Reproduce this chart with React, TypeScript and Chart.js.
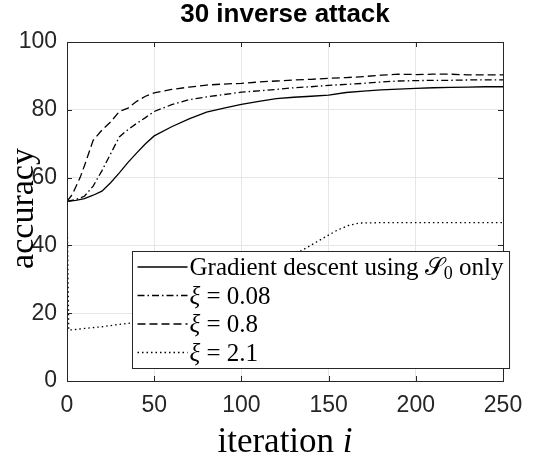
import React, { useEffect, useRef } from 'react';
import { Chart, registerables } from 'chart.js';

Chart.register(...registerables);

const titleText = '30 inverse attack';
const xTicks = [0, 50, 100, 150, 200, 250];
const yTicks = [0, 20, 40, 60, 80, 100];

const gdIter = [0, 5, 10, 15, 20, 25, 30, 35, 40, 45, 50, 60, 70, 80, 90, 100, 110, 120, 130, 140, 150, 160, 170, 180, 190, 200, 210, 220, 230, 240, 250];
const gdAcc = [53, 53.3, 53.8, 54.8, 56, 58.5, 61.4, 64.5, 67.3, 70, 72.3, 75, 77.3, 79.3, 80.5, 81.6, 82.5, 83.3, 83.7, 84, 84.3, 85.1, 85.5, 85.9, 86.1, 86.3, 86.5, 86.6, 86.7, 86.8, 86.8];

const x008Iter = [0, 5, 10, 15, 20, 25, 30, 35, 40, 45, 50, 60, 70, 80, 90, 100, 110, 120, 130, 140, 150, 160, 170, 180, 190, 200, 210, 220, 230, 240, 250];
const x008Acc = [53, 53.5, 54.5, 57.5, 62, 67, 72, 74.2, 76, 77.7, 79.5, 81.5, 83, 83.8, 84.5, 85.2, 85.6, 86, 86.5, 86.8, 87.2, 87.5, 87.8, 88.2, 88.5, 88.6, 88.7, 88.7, 88.8, 88.8, 88.8];

const x08Iter = [0, 3, 7.5, 10, 15, 20, 25, 30, 35, 40, 45, 50, 60, 70, 80, 90, 100, 110, 120, 130, 140, 150, 160, 170, 180, 190, 200, 210, 220, 230, 240, 250];
const x08Acc = [53, 55, 60, 63.5, 71, 74, 76.4, 79.5, 80.5, 82.5, 84, 85, 86, 86.7, 87.3, 87.6, 87.8, 88.2, 88.5, 88.8, 89, 89.3, 89.5, 89.8, 90.2, 90.5, 90.4, 90.5, 90.5, 90.3, 90.3, 90.3];

const x21Iter = [0, 1, 10, 20, 30, 37, 50, 60, 70, 80, 90, 100, 110, 120, 130, 135, 143, 155, 162, 168, 180, 200, 220, 250];
const x21Acc = [53, 15, 15.5, 16, 16.7, 17.1, 18, 19, 20, 22, 25, 28, 31, 34.5, 37.5, 38.6, 41, 44.5, 46, 46.6, 46.7, 46.7, 46.7, 46.7];

const toPts = (xs: number[], ys: number[]) => xs.map((v, i) => ({ x: v, y: ys[i] }));

const AXIS = '#262626';
const GRID = '#e6e6e6';
const SANS = '"Liberation Sans", Arial, sans-serif';
const SERIF = '"Liberation Serif", "DejaVu Serif", serif';

type Seg = { t: string; italic?: boolean; sub?: boolean };
const legendRows: { dash: number[]; parts: Seg[] }[] = [
  { dash: [], parts: [{ t: 'Gradient descent using ' }, { t: '𝒮' }, { t: '0', sub: true }, { t: ' only' }] },
  { dash: [7, 3, 1.5, 3], parts: [{ t: 'ξ', italic: true }, { t: ' = 0.08' }] },
  { dash: [8, 4], parts: [{ t: 'ξ', italic: true }, { t: ' = 0.8' }] },
  { dash: [1.5, 3], parts: [{ t: 'ξ', italic: true }, { t: ' = 2.1' }] },
];

const fontFor = (s: Seg, size: number) =>
  `${s.italic ? 'italic ' : ''}${s.sub ? Math.round(size * 0.7) : size}px ${SERIF}`;

const framePlugin = {
  id: 'framePlugin',
  afterDatasetsDraw(chart: any) {
    const { ctx, chartArea } = chart;
    const { left, right, top, bottom } = chartArea;
    const xs = chart.scales.x;
    const ys = chart.scales.y;
    ctx.save();
    ctx.setLineDash([]);
    ctx.strokeStyle = AXIS;
    ctx.lineWidth = 1;
    ctx.strokeRect(Math.round(left) + 0.5, Math.round(top) + 0.5, Math.round(right - left), Math.round(bottom - top));
    const tl = 5;
    ctx.beginPath();
    xTicks.forEach((v) => {
      const px = Math.round(xs.getPixelForValue(v)) + 0.5;
      ctx.moveTo(px, bottom);
      ctx.lineTo(px, bottom - tl);
      ctx.moveTo(px, top);
      ctx.lineTo(px, top + tl);
    });
    yTicks.forEach((v) => {
      const py = Math.round(ys.getPixelForValue(v)) + 0.5;
      ctx.moveTo(left, py);
      ctx.lineTo(left + tl, py);
      ctx.moveTo(right, py);
      ctx.lineTo(right - tl, py);
    });
    ctx.stroke();

    // legend
    const size = 25;
    const rowH = 28.5;
    const sampleW = 50;
    const measureRow = (parts: Seg[]) => {
      let w = 0;
      parts.forEach((p) => {
        ctx.font = fontFor(p, size);
        w += ctx.measureText(p.t).width;
      });
      return w;
    };
    const maxW = Math.max(...legendRows.map((r) => measureRow(r.parts)));
    const boxW = 5 + sampleW + 2 + maxW + 6;
    const boxH = 117;
    const bx = Math.round(right + 6 - boxW) + 0.5;
    const by = Math.round(bottom - 13 - boxH) + 0.5;
    ctx.fillStyle = '#ffffff';
    ctx.fillRect(bx, by, boxW, boxH);
    ctx.strokeStyle = AXIS;
    ctx.lineWidth = 1;
    ctx.strokeRect(bx, by, boxW, boxH);
    legendRows.forEach((row, i) => {
      const cy = by + 15.5 + i * rowH;
      ctx.strokeStyle = '#000';
      ctx.lineWidth = 1.3;
      ctx.setLineDash(row.dash);
      ctx.beginPath();
      ctx.moveTo(bx + 5, cy);
      ctx.lineTo(bx + 5 + sampleW, cy);
      ctx.stroke();
      ctx.setLineDash([]);
      let tx = bx + 5 + sampleW + 2;
      ctx.fillStyle = '#000';
      ctx.textBaseline = 'alphabetic';
      ctx.textAlign = 'left';
      const base = cy + 8;
      row.parts.forEach((p) => {
        ctx.font = fontFor(p, size);
        ctx.fillText(p.t, tx, p.sub ? base + 4 : base);
        tx += ctx.measureText(p.t).width;
      });
    });
    ctx.restore();
  },
  afterDraw(chart: any) {
    const { ctx, chartArea } = chart;
    const { left, right, top, bottom } = chartArea;
    ctx.save();
    ctx.fillStyle = '#000';
    ctx.textBaseline = 'alphabetic';
    // title
    ctx.textAlign = 'center';
    ctx.font = `bold 26px ${SANS}`;
    ctx.fillText(titleText, (left + right) / 2, 22);
    // x title
    const xsz = 35;
    const a = 'iteration ';
    const b = 'i';
    ctx.font = `${xsz}px ${SERIF}`;
    const wa = ctx.measureText(a).width;
    ctx.font = `italic ${xsz}px ${SERIF}`;
    const wb = ctx.measureText(b).width;
    const tx = (left + right) / 2 - (wa + wb) / 2;
    ctx.textAlign = 'left';
    ctx.font = `${xsz}px ${SERIF}`;
    ctx.fillText(a, tx, 452);
    ctx.font = `italic ${xsz}px ${SERIF}`;
    ctx.fillText(b, tx + wa, 452);
    // y title
    ctx.translate(33, (top + bottom) / 2 - 3);
    ctx.rotate(-Math.PI / 2);
    ctx.textAlign = 'center';
    ctx.font = `34px ${SERIF}`;
    ctx.fillText('accuracy', 0, 0);
    ctx.restore();
  },
};

const lineDs = (label: string, xs: number[], ys: number[], dash: number[]) => ({
  label,
  data: toPts(xs, ys),
  borderColor: '#000',
  backgroundColor: '#000',
  borderWidth: 1.3,
  borderDash: dash,
  pointRadius: 0,
  tension: 0,
  fill: false,
});

export default function App() {
  const ref = useRef<HTMLCanvasElement | null>(null);
  useEffect(() => {
    document.body.style.margin = '0';
    const canvas = ref.current;
    if (!canvas) return;
    const chart = new Chart(canvas, {
      type: 'line',
      data: {
        datasets: [
          lineDs('Gradient descent using S0 only', gdIter, gdAcc, []),
          lineDs('ξ = 0.08', x008Iter, x008Acc, legendRows[1].dash),
          lineDs('ξ = 0.8', x08Iter, x08Acc, legendRows[2].dash),
          lineDs('ξ = 2.1', x21Iter, x21Acc, legendRows[3].dash),
        ],
      },
      options: {
        responsive: false,
        animation: false,
        layout: { padding: { left: 0, right: 34, top: 42, bottom: 0 } },
        plugins: {
          legend: { display: false },
          tooltip: { enabled: false },
          title: { display: false },
        },
        scales: {
          x: {
            type: 'linear',
            min: 0,
            max: 250,
            afterFit: (s: any) => { s.height = 78; },
            afterBuildTicks: (s: any) => { s.ticks = xTicks.map((v) => ({ value: v })); },
            ticks: {
              color: AXIS,
              font: { family: SANS, size: 23 },
              padding: 11,
              maxRotation: 0,
            },
            grid: { color: GRID, drawTicks: false },
            border: { display: false },
          },
          y: {
            type: 'linear',
            min: 0,
            max: 100,
            afterFit: (s: any) => { s.width = 67; },
            afterBuildTicks: (s: any) => { s.ticks = yTicks.map((v) => ({ value: v })); },
            ticks: {
              color: AXIS,
              font: { family: SANS, size: 23 },
              padding: 10,
            },
            grid: { color: GRID, drawTicks: false },
            border: { display: false },
          },
        },
      },
      plugins: [framePlugin],
    });
    return () => chart.destroy();
  }, []);
  return (
    <div style={{ width: 537, height: 459 }}>
      <canvas ref={ref} width={537} height={459} style={{ display: 'block' }} />
    </div>
  );
}
